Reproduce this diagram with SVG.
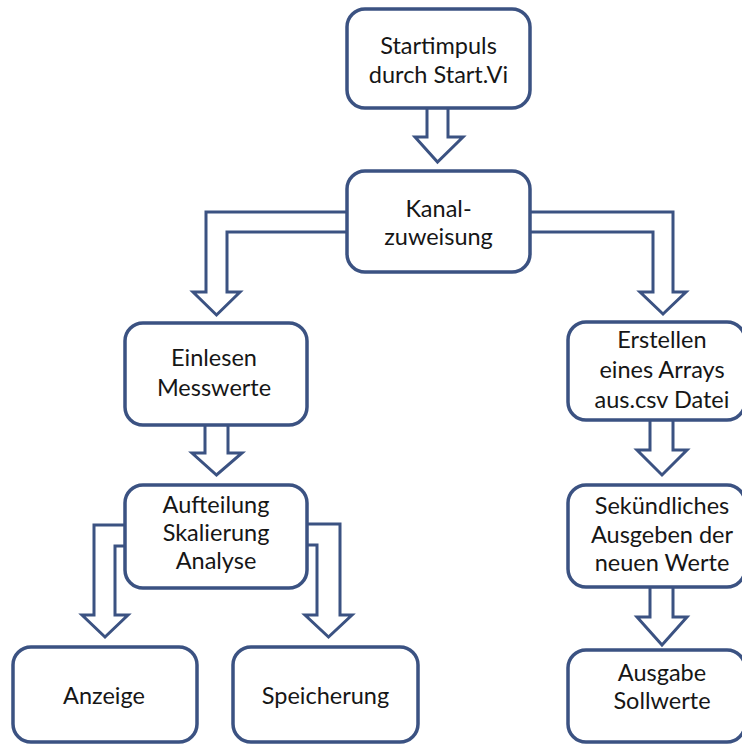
<svg xmlns="http://www.w3.org/2000/svg" width="742" height="746" viewBox="0 0 742 746">
  <style>
    .box { fill: #ffffff; stroke: #3b5282; stroke-width: 3.5; }
    .arrow { fill: #ffffff; stroke: #3b5282; stroke-width: 3; stroke-linejoin: miter; }
    .lbl { font-family: Lato, "Open Sans", "Liberation Sans", sans-serif; font-size: 23.5px; fill: #161616; text-anchor: middle; }
  </style>
  <rect width="742" height="746" fill="#ffffff"/>

  <!-- block arrows (drawn under the boxes) -->
  <g id="connectors">
    <path class="arrow" d="M427,100 V137 H415 L437.5,162 L463,137 H448 V100 Z"/>
    <path class="arrow" d="M349,212 H206 V292 H193 L216.5,315 L240,292 H227 V232 H349 Z"/>
    <path class="arrow" d="M528,212 H673 V292 H686 L663,314 L640,292 H653 V232 H528 Z"/>
    <path class="arrow" d="M205,415 V453 H192 L216.5,475 L242,453 H228 V415 Z"/>
    <path class="arrow" d="M127,525 H94 V615 H82 L105,637 L128,615 H115 V546 H127 Z"/>
    <path class="arrow" d="M305,524 H340 V615 H352 L328.5,637 L305,615 H317 V545 H305 Z"/>
    <path class="arrow" d="M650,410 V450 H637 L662,475 L687,450 H673 V410 Z"/>
    <path class="arrow" d="M650,577 V617 H637 L662,645 L687,617 H673 V577 Z"/>
  </g>

  <g id="start">
    <rect class="box" x="347" y="9" width="183" height="99" rx="18"/>
    <text class="lbl" x="438.5" y="54">Startimpuls</text>
    <text class="lbl" x="438.5" y="83">durch Start.Vi</text>
  </g>

  <g id="kanal">
    <rect class="box" x="347" y="171" width="183" height="101" rx="18"/>
    <text class="lbl" x="438.5" y="217">Kanal-</text>
    <text class="lbl" x="438.5" y="245">zuweisung</text>
  </g>

  <g id="einlesen">
    <rect class="box" x="125" y="323" width="182" height="102" rx="18"/>
    <text class="lbl" x="214" y="366">Einlesen</text>
    <text class="lbl" x="214" y="396">Messwerte</text>
  </g>

  <g id="aufteilung">
    <rect class="box" x="125" y="485" width="182" height="103" rx="18"/>
    <text class="lbl" x="216" y="513">Aufteilung</text>
    <text class="lbl" x="216" y="541">Skalierung</text>
    <text class="lbl" x="216" y="569">Analyse</text>
  </g>

  <g id="anzeige">
    <rect class="box" x="13" y="647" width="184" height="95" rx="18"/>
    <text class="lbl" x="104" y="704">Anzeige</text>
  </g>

  <g id="speicherung">
    <rect class="box" x="233" y="647" width="185" height="95" rx="18"/>
    <text class="lbl" x="325.5" y="704">Speicherung</text>
  </g>

  <g id="erstellen">
    <rect class="box" x="568" y="322" width="177" height="98" rx="18"/>
    <text class="lbl" x="662" y="348">Erstellen</text>
    <text class="lbl" x="662" y="378">eines Arrays</text>
    <text class="lbl" x="662" y="408">aus.csv Datei</text>
  </g>

  <g id="sekuendlich">
    <rect class="box" x="568" y="485" width="177" height="102" rx="18"/>
    <text class="lbl" x="662" y="514">Sekündliches</text>
    <text class="lbl" x="662" y="543">Ausgeben der</text>
    <text class="lbl" x="662" y="571">neuen Werte</text>
  </g>

  <g id="ausgabe">
    <rect class="box" x="568" y="650" width="177" height="92" rx="18"/>
    <text class="lbl" x="662" y="681">Ausgabe</text>
    <text class="lbl" x="662" y="709">Sollwerte</text>
  </g>
</svg>
